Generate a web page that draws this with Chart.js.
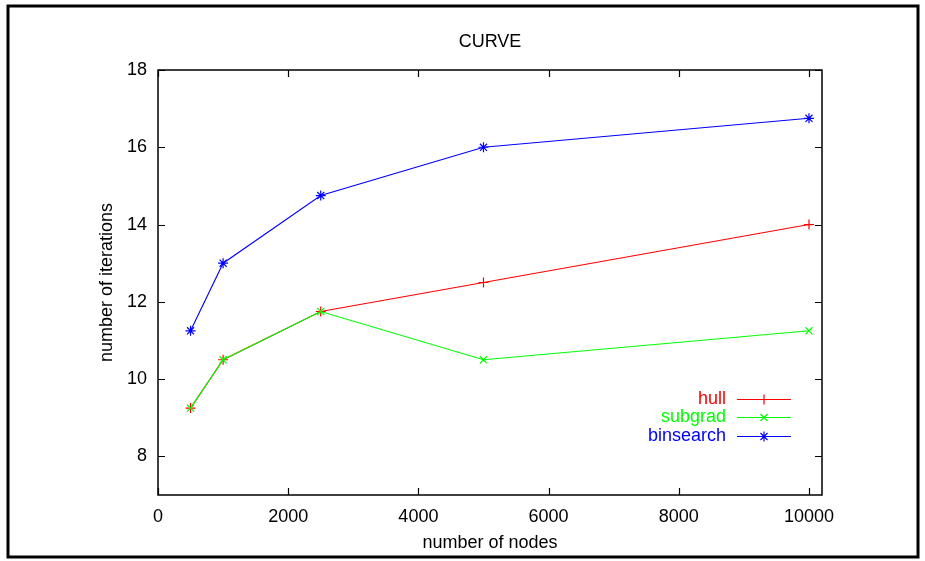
<!DOCTYPE html>
<html>
<head>
<meta charset="utf-8">
<script src="https://cdn.jsdelivr.net/npm/chart.js@4"></script>
<style>
  html, body { margin: 0; padding: 0; background: #fff; }
  #wrap { width: 925px; height: 561px; position: relative; }
</style>
</head>
<body>
<div id="wrap"><canvas id="curveChart"></canvas></div>
<script>
// Data
const nodes = [500, 1000, 2500, 5000, 10000];
const hullIters = [9.25, 10.5, 11.75, 12.5, 14];
const subgradIters = [9.25, 10.5, 11.75, 10.5, 11.25];
const binsearchIters = [11.25, 13, 14.75, 16, 16.75];
const seriesNames = ['hull', 'subgrad', 'binsearch'];
const seriesColors = ['#ff0000', '#00ff00', '#0000ff'];
const seriesMarkers = ['cross', 'crossRot', 'star'];
const xTicks = [0, 2000, 4000, 6000, 8000, 10000];
const yTicks = [8, 10, 12, 14, 16, 18];

const FONT = '"Liberation Sans", Arial, sans-serif';
const FSIZE = 18;

const toPoints = ys => nodes.map((x, i) => ({ x: x, y: ys[i] }));
const allSeries = [hullIters, subgradIters, binsearchIters];

// Frame, inward ticks, titles and gnuplot-like legend
const gnuplotLook = {
    id: 'gnuplotLook',
    afterDraw(chart) {
        const ctx = chart.ctx;
        const a = chart.chartArea;
        const xs = chart.scales.x, ys = chart.scales.y;
        ctx.save();

        // outer frame
        ctx.strokeStyle = '#000';
        ctx.lineWidth = 3;
        ctx.strokeRect(8, 6, 910, 551);

        // plot border
        ctx.lineWidth = 1.5;
        ctx.strokeRect(a.left, a.top, a.right - a.left, a.bottom - a.top);

        // inward ticks, mirrored
        ctx.lineWidth = 1.2;
        ctx.beginPath();
        xTicks.forEach(v => {
            const px = Math.round(xs.getPixelForValue(v)) + 0.5;
            ctx.moveTo(px, a.bottom); ctx.lineTo(px, a.bottom - 7);
            ctx.moveTo(px, a.top); ctx.lineTo(px, a.top + 7);
        });
        yTicks.forEach(v => {
            const py = Math.round(ys.getPixelForValue(v)) + 0.5;
            ctx.moveTo(a.left, py); ctx.lineTo(a.left + 7, py);
            ctx.moveTo(a.right, py); ctx.lineTo(a.right - 7, py);
        });
        ctx.stroke();

        // titles
        ctx.fillStyle = '#000';
        ctx.font = FSIZE + 'px ' + FONT;
        ctx.textAlign = 'center';
        ctx.textBaseline = 'middle';
        const cx = (a.left + a.right) / 2;
        ctx.fillText('CURVE', cx, 42);
        ctx.fillText('number of nodes', cx, 543);
        ctx.save();
        ctx.translate(107, (a.top + a.bottom) / 2);
        ctx.rotate(-Math.PI / 2);
        ctx.fillText('number of iterations', 0, 0);
        ctx.restore();

        // legend
        const rowY = [399, 417, 436];
        seriesNames.forEach((name, i) => {
            const y = rowY[i] + 0.5;
            const col = seriesColors[i];
            ctx.fillStyle = col;
            ctx.textAlign = 'right';
            ctx.font = FSIZE + 'px ' + FONT;
            ctx.fillText(name, 726, y);
            ctx.strokeStyle = col;
            ctx.lineWidth = 1;
            ctx.beginPath();
            ctx.moveTo(737, y); ctx.lineTo(791, y);
            ctx.stroke();
            ctx.strokeStyle = col;
            ctx.lineWidth = 1.2;
            Chart.helpers.drawPoint(ctx, {
                pointStyle: seriesMarkers[i], radius: 5, borderWidth: 1.2
            }, 764, y);
        });
        ctx.restore();
    }
};

const datasets = seriesNames.map((name, i) => ({
    label: name,
    data: toPoints(allSeries[i]),
    order: seriesNames.length - i,
    borderColor: seriesColors[i],
    backgroundColor: seriesColors[i],
    pointBorderColor: seriesColors[i],
    borderWidth: 1.1,
    pointStyle: seriesMarkers[i],
    pointRadius: 5,
    pointBorderWidth: 1.2,
    showLine: true,
    tension: 0
}));

new Chart(document.getElementById('curveChart'), {
    type: 'scatter',
    data: { datasets: datasets },
    options: {
        responsive: true,
        maintainAspectRatio: false,
        animation: false,
        layout: { padding: { top: 70, right: 103, left: 0, bottom: 0 } },
        plugins: {
            legend: { display: false },
            title: { display: false },
            tooltip: { enabled: false }
        },
        scales: {
            x: {
                type: 'linear',
                min: 0,
                max: 10200,
                afterFit: s => { s.height = 66; },
                afterBuildTicks: s => { s.ticks = xTicks.map(v => ({ value: v })); },
                grid: { display: false, drawTicks: false },
                border: { display: false },
                ticks: {
                    padding: 11,
                    color: '#000',
                    font: { family: FONT, size: FSIZE },
                    callback: v => String(v)
                }
            },
            y: {
                type: 'linear',
                min: 7,
                max: 18,
                afterFit: s => { s.width = 158; },
                afterBuildTicks: s => { s.ticks = yTicks.map(v => ({ value: v })); },
                grid: { display: false, drawTicks: false },
                border: { display: false },
                ticks: {
                    padding: 11,
                    color: '#000',
                    font: { family: FONT, size: FSIZE },
                    callback: v => String(v)
                }
            }
        }
    },
    plugins: [gnuplotLook]
});
</script>
</body>
</html>
